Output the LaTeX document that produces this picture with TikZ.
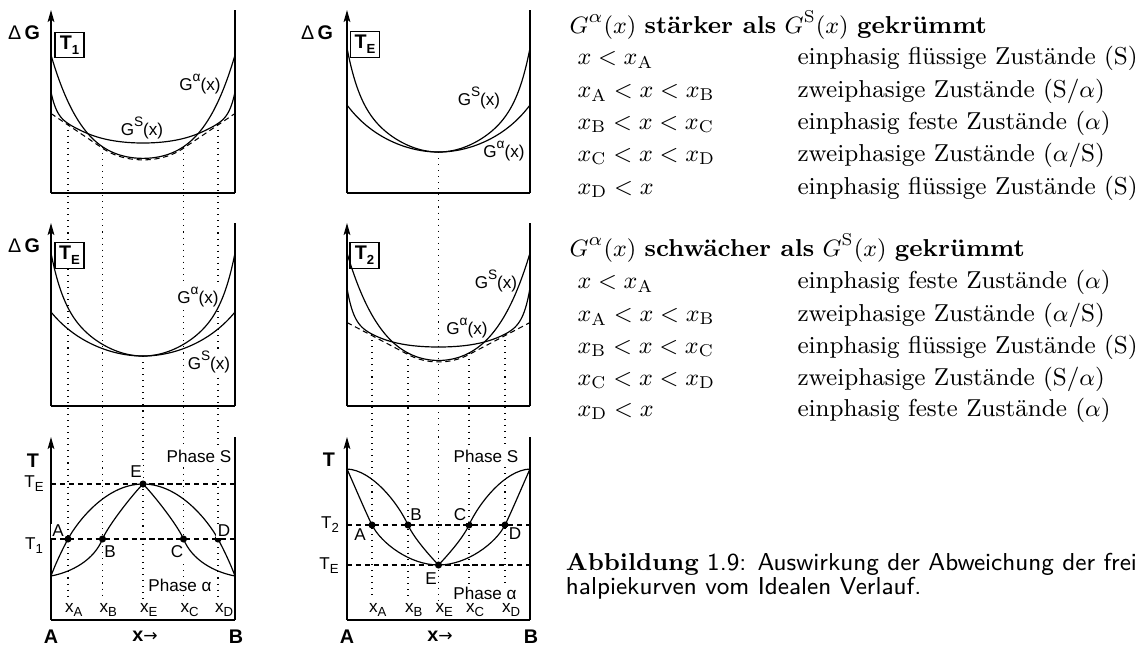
\documentclass[tikz,border=0pt]{standalone}
\usepackage{fontspec}
\newfontfamily\lsans{Liberation Sans}
\newfontfamily\djv{DejaVu Sans}
\usetikzlibrary{arrows.meta}
\newcommand\lsb[1]{\raisebox{-0.45ex}{\fontsize{5}{5}\selectfont #1}}
\newcommand\lsp[1]{\raisebox{0.95ex}{\fontsize{5.2}{5}\selectfont #1}}
\tikzset{
  lbl/.style={font=\lsans\fontsize{6.5}{7}\selectfont, inner sep=0.6pt, fill=white},
  lblb/.style={font=\lsans\bfseries\fontsize{7.5}{8}\selectfont, inner sep=0pt},
  xlbl/.style={font=\lsans\fontsize{6.5}{7}\selectfont, inner sep=0pt, anchor=west},
  tbox/.style={draw, line width=0.45pt, fill=white, font=\lsans\bfseries\fontsize{7.5}{8}\selectfont,
    minimum width=11pt, minimum height=9.8pt, inner sep=0pt},
  frame/.style={line width=0.45pt},
  axisarrow/.style={line width=0.45pt, -{Stealth[length=4.6pt,width=2.6pt,inset=1pt]}},
  baseline/.style={line width=0.8pt},
  curve/.style={line width=0.45pt},
  tang/.style={line width=0.4pt, dash pattern=on 2pt off 1.4pt},
  vdot/.style={line width=0.4pt, dash pattern=on 0.4pt off 1.9pt},
  pdot/.style={circle, fill=black, inner sep=0pt, minimum size=2.7pt},
  rt/.style={anchor=base west, inner sep=0pt, font=\fontsize{9.3}{11}\selectfont},
}
\begin{document}
\begin{tikzpicture}[x=0.38pt,y=-0.38pt]
\useasboundingbox (0,0) rectangle (1139,646);

% ---------------- dotted vertical guide lines ----------------
\coordinate (vA1t) at (68,123.5);   \coordinate (vA1b) at (68,600);
\coordinate (vB1t) at (102.5,146.7);\coordinate (vB1b) at (102.5,600);
\coordinate (vC1t) at (183.5,146.7);\coordinate (vC1b) at (183.5,600);
\coordinate (vD1t) at (218,123.5);  \coordinate (vD1b) at (218,600);
\coordinate (vE1t) at (143,356);    \coordinate (vE1b) at (143,600);
\coordinate (vA2t) at (372,334.1);  \coordinate (vA2b) at (372,600);
\coordinate (vB2t) at (408,353);    \coordinate (vB2b) at (408,600);
\coordinate (vC2t) at (469,353);    \coordinate (vC2b) at (469,600);
\coordinate (vD2t) at (505,334.1);  \coordinate (vD2b) at (505,600);
\coordinate (vE2t) at (438.5,152);  \coordinate (vE2b) at (438.5,600);
\foreach \n in {A1,B1,C1,D1,E1,A2,B2,C2,D2,E2}
  \draw[vdot] (v\n t) -- (v\n b);

% ---------------- labels (white background hides the dotted lines) ----------------
\node[lblb] (dg1) at (24,33) {{\mdseries Δ}\,G};
\node[tbox] (b1) at (69.5,45) {T\lsb{1}};
\node[lbl] (ga1) at (200,84) {G\lsp{α}(x)};
\node[lbl] (gs1) at (142,128) {G\lsp{S}(x)};
\node[lblb] (dg2) at (317,33) {{\mdseries Δ}\,G};
\node[tbox] (b2) at (365,44.5) {T\lsb{E}};
\node[lbl] (gs2) at (479,98) {G\lsp{S}(x)};
\node[lbl] (ga2) at (504,151) {G\lsp{α}(x)};
\node[lblb] (dg3) at (24,246) {{\mdseries Δ}\,G};
\node[tbox] (b3) at (69.5,255.5) {T\lsb{E}};
\node[lbl] (ga3) at (198,297) {G\lsp{α}(x)};
\node[lbl] (gs3) at (209,362) {G\lsp{S}(x)};
\node[tbox] (b4) at (364.5,255.5) {T\lsb{2}};
\node[lbl] (gs4) at (496,281) {G\lsp{S}(x)};
\node[lbl] (ga4) at (467,328) {G\lsp{α}(x)};

% ---------------- frames ----------------
\foreach \l/\r/\t/\b in {51/235/10/193, 347/530/10/193, 51/235/223/406,
                         347/530/223/406, 51/235/437/620, 347/530/437/620} {
  \draw[axisarrow] (\l,\b) -- (\l,\t);
  \draw[frame] (\r,\t) -- (\r,\b);
  \draw[baseline] (\l,\b) -- (\r,\b);
}

% ---------------- top left: T1 ----------------
\draw[curve] plot[domain=-1:1, samples=161]
  ({143+92*\x},{193-(32.64+70.45*\x*\x+53.66*(\x*\x-0.1936)*(\x*\x-0.1936))});
\draw[curve] plot[domain=-1:1, samples=161]
  ({143+92*\x},{193-(44.27+38.04*\x*\x+(\x*\x-0.6642)*(\x*\x-0.6642)*(13+152.7*(\x*\x)^4))});
\draw[tang] (51,113.5) -- (102.5,148.2) -- plot[domain=-0.44:0.44, samples=61]
  ({143+92*\x},{194.5-(32.64+70.45*\x*\x+53.66*(\x*\x-0.1936)*(\x*\x-0.1936))}) -- (235,113.5);

% ---------------- top middle: TE ----------------
\draw[curve] plot[domain=-1:1, samples=161]
  ({438.5+91.5*\x},{193-(41+60*\x*\x+44*(\x*\x)^4)});
\draw[curve] plot[domain=-1:1, samples=161]
  ({438.5+91.5*\x},{193-(41+40*\x*\x+7*(\x*\x)^3)});

% ---------------- middle left: TE ----------------
\draw[curve] plot[domain=-1:1, samples=161]
  ({143+92*\x},{406-(50+60*\x*\x+43*(\x*\x)^4)});
\draw[curve] plot[domain=-1:1, samples=161]
  ({143+92*\x},{406-(50+38*\x*\x+6*(\x*\x)^3)});

% ---------------- middle middle: T2 ----------------
\draw[curve] plot[domain=-1:1, samples=161]
  ({438.5+91.5*\x},{406-(44.99+72.07*\x*\x+45.5*(\x*\x-0.1109)*(\x*\x-0.1109))});
\draw[curve] plot[domain=-1:1, samples=161]
  ({438.5+91.5*\x},{406-(54.45+33.01*\x*\x+(\x*\x-0.5285)*(\x*\x-0.5285)*(16.3+121.1*(\x*\x)^4))});
\draw[tang] (347,322.5) -- (408,354.5) -- plot[domain=-0.333:0.333, samples=61]
  ({438.5+91.5*\x},{407.5-(44.99+72.07*\x*\x+45.5*(\x*\x-0.1109)*(\x*\x-0.1109))}) -- (530,322.5);

% ---------------- bottom left: phase diagram ----------------
\node[lbl] (ps1) at (199,456) {Phase S};
\node[lbl] (pa1) at (180,585) {Phase α};
\draw[tang] (51,484) -- (235,484);
\draw[tang] (51,539) -- (235,539);
\draw[curve] (51,576) .. controls (55,565) and (62,550) .. (68,539)
  .. controls (76,524) and (105,484) .. (143,484)
  .. controls (181,484) and (210,524) .. (218,539)
  .. controls (224,550) and (231,565) .. (235,576);
\draw[curve] (51,576) .. controls (72,572) and (94,560) .. (102.5,539)
  .. controls (108.5,525) and (133,494) .. (143,484)
  .. controls (153,494) and (177.5,525) .. (183.5,539)
  .. controls (192,560) and (214,572) .. (235,576);
\node[pdot] (pA1) at (68,539) {};
\node[pdot] (pB1) at (102.5,539) {};
\node[pdot] (pC1) at (183.5,539) {};
\node[pdot] (pD1) at (218,539) {};
\node[pdot] (pE1) at (143,484) {};
\node[lblb] (tT1) at (33,461) {T};
\node[lbl] (tTE1) at (34,484) {T\lsb{E}};
\node[lbl] (tTo1) at (34,546) {T\lsb{1}};
\node[lbl] (lA1) at (58,531) {A};
\node[lbl] (lB1) at (110,552) {B};
\node[lbl] (lC1) at (177,552) {C};
\node[lbl] (lD1) at (224,531) {D};
\node[lbl] (lE1) at (136,472) {E};
\node[xlbl] (xA1) at (64.5,610) {x\lsb{A}};
\node[xlbl] (xB1) at (99,610) {x\lsb{B}};
\node[xlbl] (xE1) at (139.5,610) {x\lsb{E}};
\node[xlbl] (xC1) at (180,610) {x\lsb{C}};
\node[xlbl] (xD1) at (214.5,610) {x\lsb{D}};
\node[lblb] (cA1) at (51,637) {A};
\node[lblb] (cx1) at (145,636) {x{\mdseries\djv\fontsize{6.5}{6}\selectfont →}};
\node[lblb] (cB1) at (236,637) {B};

% ---------------- bottom middle: phase diagram ----------------
\node[lbl] (ps2) at (486,456) {Phase S};
\node[lbl] (pa2) at (485,593) {Phase α};
\draw[tang] (347,525) -- (530,525);
\draw[tang] (347,565) -- (530,565);
\draw[curve] (347,469) .. controls (352,480) and (366,513) .. (372,525)
  .. controls (381,543) and (410,565) .. (438.5,565)
  .. controls (467,565) and (496,543) .. (505,525)
  .. controls (511,513) and (525,480) .. (530,469);
\draw[curve] (347,469) .. controls (372,470) and (398,503) .. (408,525)
  .. controls (414,538.2) and (430,556) .. (438.5,565)
  .. controls (447,556) and (463,538.2) .. (469,525)
  .. controls (479,503) and (505,470) .. (530,469);
\node[pdot] (pA2) at (372,525) {};
\node[pdot] (pB2) at (408,525) {};
\node[pdot] (pC2) at (469,525) {};
\node[pdot] (pD2) at (505,525) {};
\node[pdot] (pE2) at (438.5,565) {};
\node[lblb] (tT2) at (329,460) {T};
\node[lbl] (tTt2) at (330,525) {T\lsb{2}};
\node[lbl] (tTE2) at (329,566) {T\lsb{E}};
\node[lbl] (lA2) at (360,535) {A};
\node[lbl] (lB2) at (416,515) {B};
\node[lbl] (lC2) at (460,515) {C};
\node[lbl] (lD2) at (515,534) {D};
\node[lbl] (lE2) at (431,579) {E};
\node[xlbl] (xA2) at (368.5,610) {x\lsb{A}};
\node[xlbl] (xB2) at (404.5,610) {x\lsb{B}};
\node[xlbl] (xE2) at (435,610) {x\lsb{E}};
\node[xlbl] (xC2) at (465.5,610) {x\lsb{C}};
\node[xlbl] (xD2) at (501.5,610) {x\lsb{D}};
\node[lblb] (cA2) at (347,637) {A};
\node[lblb] (cx2) at (440,636) {x{\mdseries\djv\fontsize{6.5}{6}\selectfont →}};
\node[lblb] (cB2) at (531,637) {B};

% ---------------- right text ----------------
\node[rt] (h1) at (569,33) {$G^\alpha(x)$ \textbf{stärker als} $G^{\mathrm{S}}(x)$ \textbf{gekrümmt}};
\node[rt] (r1a) at (577,64)  {$x<x_{\mathrm{A}}$};
\node[rt] (r1b) at (797,64)  {einphasig flüssige Zustände (S)};
\node[rt] (r2a) at (577,97)  {$x_{\mathrm{A}}<x<x_{\mathrm{B}}$};
\node[rt] (r2b) at (797,97)  {zweiphasige Zustände (S/$\alpha$)};
\node[rt] (r3a) at (577,129) {$x_{\mathrm{B}}<x<x_{\mathrm{C}}$};
\node[rt] (r3b) at (797,129) {einphasig feste Zustände ($\alpha$)};
\node[rt] (r4a) at (577,161) {$x_{\mathrm{C}}<x<x_{\mathrm{D}}$};
\node[rt] (r4b) at (797,161) {zweiphasige Zustände ($\alpha$/S)};
\node[rt] (r5a) at (577,194) {$x_{\mathrm{D}}<x$};
\node[rt] (r5b) at (797,194) {einphasig flüssige Zustände (S)};

\node[rt] (h2) at (569,256) {$G^\alpha(x)$ \textbf{schwächer als} $G^{\mathrm{S}}(x)$ \textbf{gekrümmt}};
\node[rt] (s1a) at (577,288) {$x<x_{\mathrm{A}}$};
\node[rt] (s1b) at (797,288) {einphasig feste Zustände ($\alpha$)};
\node[rt] (s2a) at (577,321) {$x_{\mathrm{A}}<x<x_{\mathrm{B}}$};
\node[rt] (s2b) at (797,321) {zweiphasige Zustände ($\alpha$/S)};
\node[rt] (s3a) at (577,353) {$x_{\mathrm{B}}<x<x_{\mathrm{C}}$};
\node[rt] (s3b) at (797,353) {einphasig flüssige Zustände (S)};
\node[rt] (s4a) at (577,385) {$x_{\mathrm{C}}<x<x_{\mathrm{D}}$};
\node[rt] (s4b) at (797,385) {zweiphasige Zustände (S/$\alpha$)};
\node[rt] (s5a) at (577,416) {$x_{\mathrm{D}}<x$};
\node[rt] (s5b) at (797,416) {einphasig feste Zustände ($\alpha$)};

% ---------------- caption ----------------
\node[rt, anchor=base east] (cap1) at (1137.5,570)
  {\textbf{Abbildung} {\sffamily 1.9: Auswirkung der Abweichung der frei}};
\path (cap1.base west) ++(0,24) node[rt] (cap2) {\sffamily halpiekurven vom Idealen Verlauf.};
\end{tikzpicture}
\end{document}
